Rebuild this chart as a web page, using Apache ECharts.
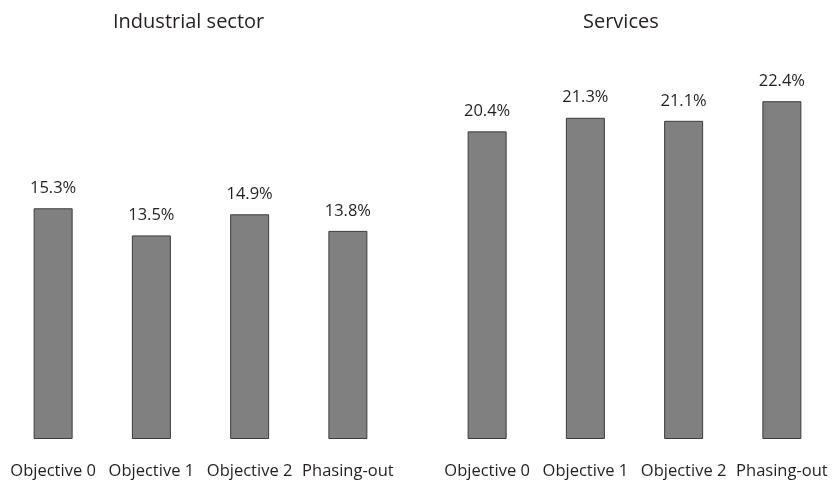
<!DOCTYPE html>
<html>
<head>
<meta charset="utf-8">
<script src="https://cdn.jsdelivr.net/npm/echarts@6/dist/echarts.min.js"></script>
<style>
  html, body { margin: 0; padding: 0; background: #ffffff; }
  #chart { width: 832px; height: 482px; }
</style>
</head>
<body>
<div id="chart"></div>
<script>
// Share of employment by programme area, two sectors
const categories = ['Objective 0', 'Objective 1', 'Objective 2', 'Phasing-out'];
const industrialValues = [15.3, 13.5, 14.9, 13.8];
const servicesValues = [20.4, 21.3, 21.1, 22.4];
const panelTitles = ['Industrial sector', 'Services'];

const textColor = '#231f20';
const fontFamily = '"Open Sans", "Noto Sans", sans-serif';

const chart = echarts.init(document.getElementById('chart'), null, { renderer: 'canvas' });

function xAxisFor(gridIndex) {
  return {
    type: 'category',
    gridIndex: gridIndex,
    data: categories,
    axisLine: { show: false },
    axisTick: { show: false },
    axisLabel: {
      color: textColor,
      fontFamily: fontFamily,
      fontSize: 16.5,
      lineHeight: 20,
      margin: 22,
      interval: 0
    }
  };
}

function yAxisFor(gridIndex) {
  return {
    type: 'value',
    gridIndex: gridIndex,
    min: 0,
    max: 25,
    show: false,
    splitLine: { show: false }
  };
}

function barSeries(values, idx) {
  return {
    type: 'bar',
    xAxisIndex: idx,
    yAxisIndex: idx,
    data: values,
    barWidth: 39,
    itemStyle: {
      color: '#808080',
      borderColor: '#3c3c3c',
      borderWidth: 1
    },
    label: {
      show: true,
      position: 'top',
      distance: 10,
      color: textColor,
      fontFamily: fontFamily,
      fontSize: 16.5,
      lineHeight: 20,
      formatter: p => p.value.toFixed(1) + '%'
    },
    silent: true,
    animation: false
  };
}

const titleStyle = { color: textColor, fontFamily: fontFamily, fontSize: 20, fontWeight: 'normal' };

chart.setOption({
  animation: false,
  backgroundColor: '#ffffff',
  title: [
    { text: panelTitles[0], left: 108, top: 7, textStyle: titleStyle },
    { text: panelTitles[1], left: 578, top: 7, textStyle: titleStyle }
  ],
  grid: [
    { left: 4, width: 393, top: 62, height: 377 },
    { left: 438, width: 393, top: 62, height: 377 }
  ],
  xAxis: [xAxisFor(0), xAxisFor(1)],
  yAxis: [yAxisFor(0), yAxisFor(1)],
  series: [barSeries(industrialValues, 0), barSeries(servicesValues, 1)]
});
</script>
</body>
</html>
